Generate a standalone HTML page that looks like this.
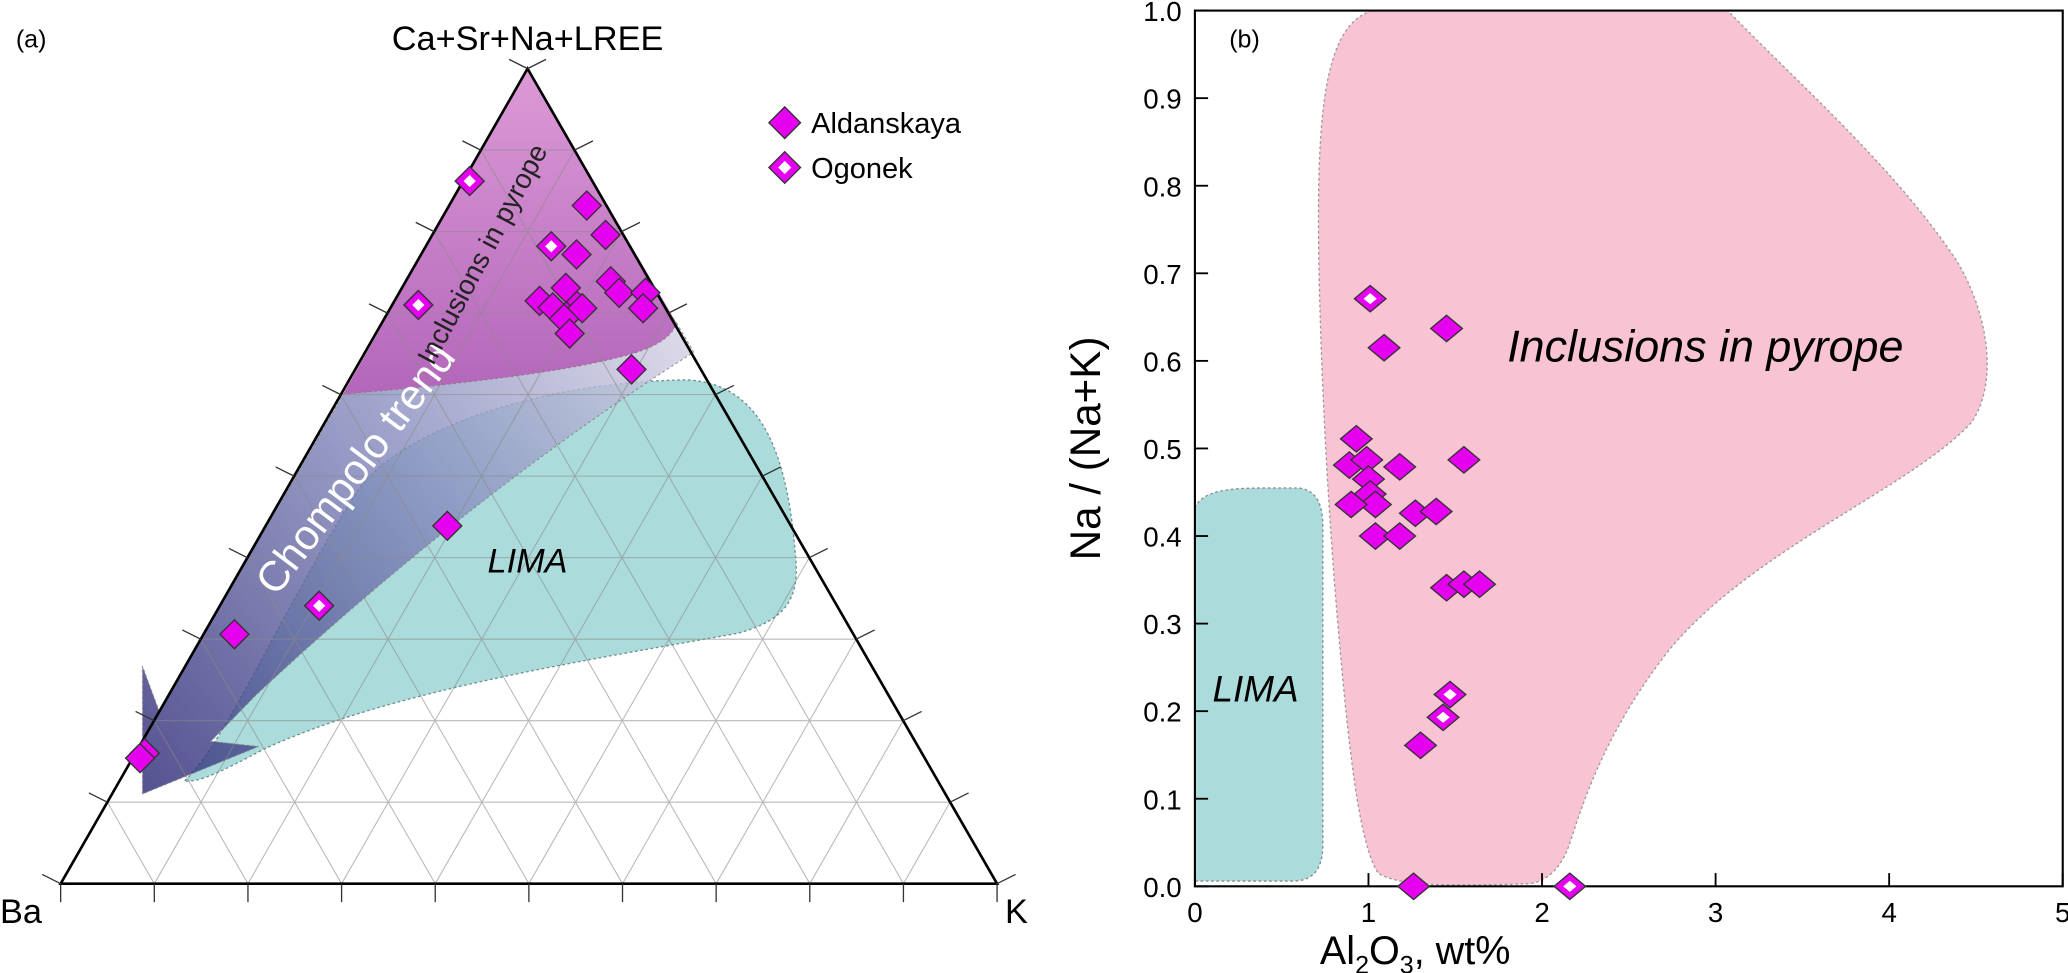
<!DOCTYPE html>
<html><head><meta charset="utf-8"><style>
html,body{margin:0;padding:0;background:#fff;}
svg{display:block;font-family:"Liberation Sans",Arial,sans-serif;}
</style></head><body>
<svg id="fig" width="2068" height="973" viewBox="0 0 1568 737.7" xmlns="http://www.w3.org/2000/svg">
<defs>
<linearGradient id="bandGrad" x1="520" y1="260" x2="110" y2="590" gradientUnits="userSpaceOnUse">
<stop offset="0" stop-color="#d3cfe3"/><stop offset="0.4" stop-color="#8a8fc0"/><stop offset="1" stop-color="#2e2a78"/>
</linearGradient>
<linearGradient id="pinkGrad" x1="0" y1="52" x2="0" y2="300" gradientUnits="userSpaceOnUse">
<stop offset="0" stop-color="#dc9ad6"/><stop offset="1" stop-color="#b366ba"/>
</linearGradient>
</defs>
<g id="ternary">
<text x="12" y="36" font-size="19">(a)</text>
<text x="400" y="38" font-size="26" text-anchor="middle">Ca+Sr+Na+LREE</text>
<text x="0" y="700" font-size="26">Ba</text>
<text x="762" y="700" font-size="26">K</text>
<path d="M140 592 C170 565,215 460,271 372 C300 330,400 290,520 288 C570 290,596 330,603 420 C607 455,595 470,560 480 C450 500,300 522,200 568 C170 584,150 594,140 592 Z" fill="#abdcdb" stroke="#6a8f8f" stroke-width="1" stroke-dasharray="2,2"/>
<path d="M400 52 L260 299 C330 293,430 283,480 268 C500 262,510 254,513 245 Z" fill="url(#pinkGrad)"/>
<path d="M260 299 C330 293,430 283,480 268 C500 262,510 254,513 245 L526 267 C450 315,330 400,194 527 L160 562 L196 566 L108 602 L108 505 L121 540 Z" fill="url(#bandGrad)" opacity="0.8" stroke="#777" stroke-width="0.8" stroke-dasharray="2,2"/>
<g id="tgrid" stroke="#8a8a8a" stroke-width="0.8" opacity="0.6"></g>
<polygon points="400,52 46,670 756,670" fill="none" stroke="#000" stroke-width="2"/>
<g id="tticks" stroke="#333" stroke-width="1"></g>
<text transform="translate(278,362) rotate(-53)" font-size="32" fill="#fff" text-anchor="middle">Chompolo trend</text>
<text transform="translate(372,196) rotate(-62)" font-size="21" fill="#222" text-anchor="middle">Inclusions in pyrope</text>
<text x="400" y="434" font-size="26" font-style="italic" text-anchor="middle">LIMA</text>
<g id="tpoints"></g>
<g>
<path d="M595 81 L607 93 L595 105 L583 93 Z" fill="#e600f0" stroke="#333" stroke-width="1"/>
<text x="615" y="101" font-size="22">Aldanskaya</text>
<path d="M595 115 L607 127 L595 139 L583 127 Z" fill="#e600f0" stroke="#333" stroke-width="1"/>
<path d="M595 122 L600 127 L595 132 L590 127 Z" fill="#fff"/>
<text x="615" y="135" font-size="22">Ogonek</text>
</g>
</g>
<g id="scatter">
<path d="M1040 8 C1005 20,998 80,1000 200 C1002 300,1008 400,1015 480 C1022 560,1030 640,1045 662 C1060 672,1100 672,1160 670 C1175 668,1185 655,1190 640 C1200 610,1215 560,1260 500 C1320 420,1450 370,1495 320 C1515 290,1508 240,1485 200 C1440 130,1360 60,1310 8 Z" fill="#f8c3d3" stroke="#999" stroke-width="1" stroke-dasharray="2,2"/>
<path d="M906 385 C912 372,930 370,960 370 L985 370 C1000 372,1003 385,1003 400 L1003 640 C1003 660,995 668,980 668 L906 668 Z" fill="#abdcdb" stroke="#888" stroke-width="1" stroke-dasharray="2,2"/>
<rect x="906" y="8" width="658" height="664" fill="none" stroke="#000" stroke-width="1.6"/>
<g id="saxes"></g>
<text x="932" y="36" font-size="19">(b)</text>
<text x="1293" y="274" font-size="34" font-style="italic" text-anchor="middle">Inclusions in pyrope</text>
<text x="952" y="532" font-size="28" font-style="italic" text-anchor="middle">LIMA</text>
<text transform="translate(834,340) rotate(-90)" font-size="32" text-anchor="middle">Na / (Na+K)</text>
<text x="1073" y="731" font-size="30" text-anchor="middle">Al<tspan font-size="19" dy="7">2</tspan><tspan dy="-7">O</tspan><tspan font-size="19" dy="7">3</tspan><tspan dy="-7">, wt%</tspan></text>
<g id="spoints"></g>
</g>
</svg>
<script>
// Ternary data: fractions of apex (Ca+Sr+Na+LREE) and K; Ba = 1 - top - k
const ternTop = [0.862,0.832,0.796,0.782,0.772,0.739,0.725,0.725,0.706,0.731,0.715,0.707,0.709,0.696,0.706,0.693,0.675,0.710,0.631,0.439,0.341,0.306,0.160,0.154];
const ternK   = [0.007,0.147,0.185,0.134,0.166,0.219,0.235,0.263,0.270,0.175,0.155,0.173,0.198,0.193,0.205,0.192,0.207,0.028,0.295,0.194,0.106,0.033,0.010,0.008];
const ternHollow = [1,0,0,1,0,0,0,0,0,0,0,0,0,0,0,0,0,1,0,0,1,0,0,0];
// Scatter data
const al2o3 = [1.01,1.45,1.09,0.93,0.89,0.99,1.18,1.55,1.00,1.01,1.04,0.90,1.27,1.39,1.04,1.18,1.45,1.55,1.64,1.47,1.43,1.30,1.26,2.16];
const naRatio = [0.671,0.637,0.615,0.511,0.481,0.487,0.479,0.487,0.465,0.448,0.436,0.436,0.426,0.428,0.400,0.400,0.341,0.345,0.345,0.219,0.193,0.161,0.0,0.0];
const scatHollow = [1,0,0,0,0,0,0,0,0,0,0,0,0,0,0,0,0,0,0,1,1,0,0,1];
const yTicks = ["0.0","0.1","0.2","0.3","0.4","0.5","0.6","0.7","0.8","0.9","1.0"];
const xTicks = ["0","1","2","3","4","5"];

const NS = "http://www.w3.org/2000/svg";
const A = [400,52], B = [46,670], K = [756,670];
function tern(t,k){const b=1-t-k;return [t*A[0]+b*B[0]+k*K[0], t*A[1]+b*B[1]+k*K[1]];}
function sx(v){return 906 + v*131.6;}
function sy(v){return 672 - v*664;}
function mk(tag,attrs,parent){const e=document.createElementNS(NS,tag);for(const a in attrs)e.setAttribute(a,attrs[a]);parent.appendChild(e);return e;}

const g = document.getElementById('tgrid');
for(let i=1;i<10;i++){
  const f=i/10;
  const l1=mk('line',{x1:tern(f,0)[0],y1:tern(f,0)[1],x2:tern(f,1-f)[0],y2:tern(f,1-f)[1]},g);
  
  
  const p=tern(0,f),q=tern(1-f,f);
  const l2=mk('line',{x1:p[0],y1:p[1],x2:q[0],y2:q[1]},g);
  
  
  const r=tern(0,1-f),s=tern(1-f,0);
  const l3=mk('line',{x1:r[0],y1:r[1],x2:s[0],y2:s[1]},g);
  
  
}
const tk = document.getElementById('tticks');
for(let i=0;i<=10;i++){
  const f=i/10;
  const b=tern(0,f);
  const t1=mk('line',{x1:b[0],y1:b[1],x2:b[0],y2:b[1]+14},tk);
  
  
  const l=tern(f,0);
  const t2=mk('line',{x1:l[0],y1:l[1],x2:l[0]-14,y2:l[1]-7},tk);
  
  
  const r=tern(f,1-f);
  const t3=mk('line',{x1:r[0],y1:r[1],x2:r[0]+14,y2:r[1]-7},tk);
  
  
}
function diamond(parent,cx,cy,w,h,hollow,name){
  const d=mk('path',{d:`M${cx} ${cy-h} L${cx+w} ${cy} L${cx} ${cy+h} L${cx-w} ${cy} Z`,fill:'#e600f0',stroke:'#333','stroke-width':1},parent);
  
  
  if(hollow){
    const h2=mk('path',{d:`M${cx} ${cy-h*0.42} L${cx+w*0.42} ${cy} L${cx} ${cy+h*0.42} L${cx-w*0.42} ${cy} Z`,fill:'#fff'},parent);
    
    
  }
}
const tp=document.getElementById('tpoints');
for(let i=0;i<ternTop.length;i++){
  const p=tern(ternTop[i],ternK[i]);
  diamond(tp,p[0],p[1],11,11,ternHollow[i],ternHollow[i]?'ogonek-point':'aldanskaya-point');
}
const ax=document.getElementById('saxes');
yTicks.forEach((lab,i)=>{
  const v=i/10,y=sy(v);
  const t=mk('line',{x1:906,y1:y,x2:916,y2:y,stroke:'#000','stroke-width':1.4},ax);
  
  
  const tx=mk('text',{x:896,y:y+8,'font-size':21,'text-anchor':'end'},ax);
  tx.textContent=lab;
  
  
});
xTicks.forEach((lab,i)=>{
  const x=sx(+lab);
  const t=mk('line',{x1:x,y1:672,x2:x,y2:662,stroke:'#000','stroke-width':1.4},ax);
  
  
  const tx=mk('text',{x:x,y:699,'font-size':21,'text-anchor':'middle'},ax);
  tx.textContent=lab;
  
  
});
const sp=document.getElementById('spoints');
for(let i=0;i<al2o3.length;i++){
  diamond(sp,sx(al2o3[i]),sy(naRatio[i]),12,10,scatHollow[i],scatHollow[i]?'ogonek-point':'aldanskaya-point');
}
</script>
</body></html>
